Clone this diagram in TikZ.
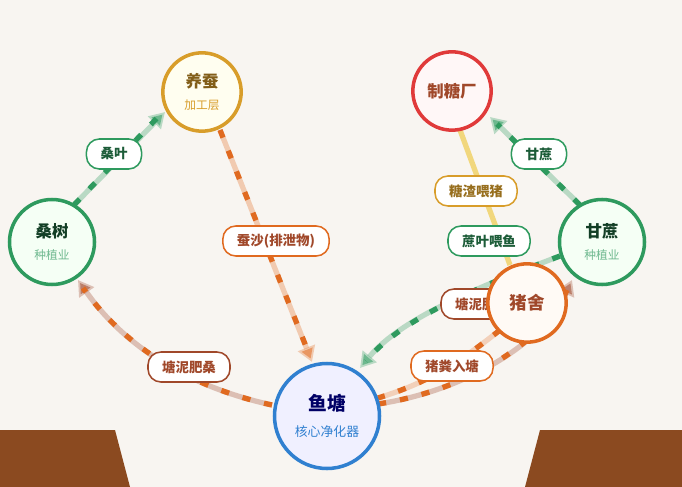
\documentclass[tikz,border=0pt]{standalone}
\usepackage{fontspec}
\setmainfont{Noto Sans CJK SC}
\usetikzlibrary{positioning,arrows.meta}
\definecolor{bgc}{HTML}{F8F5F1}
\definecolor{soil}{HTML}{8B4A20}
\definecolor{grn}{HTML}{2E9A5E}
\definecolor{gold}{HTML}{D89D2A}
\definecolor{redc}{HTML}{E03A3A}
\definecolor{orng}{HTML}{E06A20}
\definecolor{blu}{HTML}{3080D0}
\definecolor{brwn}{HTML}{A0482A}
\definecolor{ylw}{HTML}{F0D060}
\begin{document}
\begin{tikzpicture}[
        x=0.03cm, y=-0.03cm,
        unit/.style={
                circle,
                line width=3pt,
                align=center,
                font=\bfseries\fontsize{14}{17}\selectfont,
            },
        tag/.style={
                rounded corners=11pt,
                fill=white,
                line width=1.3pt,
                minimum height=0.9cm,
                inner xsep=12pt,
                font=\bfseries\fontsize{11.5}{14}\selectfont,
            },
        flow/.style={
                line width=4.5pt,
                draw opacity=0.45,
                -{Triangle[length=13pt,width=15pt]},
            },
        dashline/.style={
                line width=4.5pt,
                dash pattern=on 7pt off 12pt,
            }
    ]
    \fill[bgc] (0,0) rectangle (682,487);
    \useasboundingbox (0,0) rectangle (682,487);
    % ground
    \fill[soil] (0,430) -- (115,430) -- (130,487) -- (0,487) -- cycle;
    \fill[soil] (540,430) -- (682,430) -- (682,487) -- (525,487) -- cycle;

    % anchor points of the units
    \coordinate (mulberryC) at (52,242);
    \coordinate (silkC) at (202,92);
    \coordinate (sugarC) at (452,91);
    \coordinate (caneC) at (602,242);
    \coordinate (pigC) at (527,303);
    \coordinate (pondC) at (327,416);

    % connectors
    \draw[flow,grn!70] (mulberryC) ++(22,-37) coordinate (m1) -- (165,112) coordinate (s1);
    \draw[dashline,grn] (m1) -- (158,117);
    \draw[flow,orng!70] (220,130) coordinate (s2) -- (312,362) coordinate (p1);
    \draw[dashline,orng] (s2) -- (309,354);
    \draw[flow,brwn!70] (272,405) coordinate (p2) .. controls (180,385) and (120,340) .. (78,280) coordinate (m2);
    \draw[dashline,orng] (p2) .. controls (180,385) and (120,340) .. (83,288);
    \draw[flow,grn!70] (580,205) coordinate (c1) -- (490,117) coordinate (g1);
    \draw[dashline,grn] (c1) -- (497,124);
    \draw[line width=4.5pt,ylw,opacity=0.8] (460,130) -- (510,265);
    \draw[flow,grn!70] (560,256) coordinate (c2) .. controls (470,290) and (400,320) .. (360,368);
    \draw[dashline,grn] (c2) .. controls (470,290) and (400,320) .. (366,361);
    \draw[flow,brwn!70] (378,404) coordinate (p3) .. controls (470,390) and (545,340) .. (572,280);
    \draw[dashline,orng] (p3) .. controls (470,390) and (545,340) .. (567,290);
    \draw[flow,orng!60,-] (500,330) coordinate (h1) .. controls (450,370) and (420,385) .. (378,398);
    \draw[dashline,orng] (h1) .. controls (450,370) and (420,385) .. (378,398);

    % connector labels
    \node[tag,draw=grn,text=grn!60!black] (leafT) at (114,154) {桑叶};
    \node[tag,draw=orng,text=brwn] (fecesT) at (276,241) {蚕沙(排泄物)};
    \node[tag,draw=brwn,text=brwn] (mudT) at (189,367) {塘泥肥桑};
    \node[tag,draw=grn,text=grn!60!black] (caneT) at (539,154) {甘蔗};
    \node[tag,draw=gold,text=gold!70!black] (dregT) at (476,191) {糖渣喂猪};
    \node[tag,draw=grn,text=grn!60!black] (cleafT) at (489,241) {蔗叶喂鱼};
    \node[tag,draw=brwn,text=brwn] (mud2T) at (482,304) {塘泥肥蔗};
    \node[tag,draw=orng,text=brwn] (manureT) at (452,366) {猪粪入塘};

    % units
    \node[unit,draw=grn,fill=green!4,minimum size=2.55cm,text=grn!40!black] (mulberry) at (mulberryC) {桑树\\[2pt]{\mdseries\fontsize{10}{12}\selectfont\color{grn!70}种植业}};
    \node[unit,draw=gold,fill=yellow!6,minimum size=2.35cm,text=gold!60!black] (silk) at (silkC) {养蚕\\[2pt]{\mdseries\fontsize{10}{12}\selectfont\color{gold}加工层}};
    \node[unit,draw=redc,fill=red!3,minimum size=2.35cm,text=brwn] (sugar) at (sugarC) {制糖厂};
    \node[unit,draw=grn,fill=green!4,minimum size=2.55cm,text=grn!40!black] (cane) at (caneC) {甘蔗\\[2pt]{\mdseries\fontsize{10}{12}\selectfont\color{grn!70}种植业}};
    \node[unit,draw=orng,fill=orange!4,minimum size=2.35cm,text=brwn,font=\bfseries\fontsize{15}{18}\selectfont] (pig) at (pigC) {猪舍};
    \node[unit,draw=blu,fill=blue!6,minimum size=3.15cm,text=blue!40!black,font=\bfseries\fontsize{16}{19}\selectfont] (pond) at (pondC) {鱼塘\\[3pt]{\mdseries\fontsize{11}{13}\selectfont\color{blu}核心净化器}};
\end{tikzpicture}
\end{document}
